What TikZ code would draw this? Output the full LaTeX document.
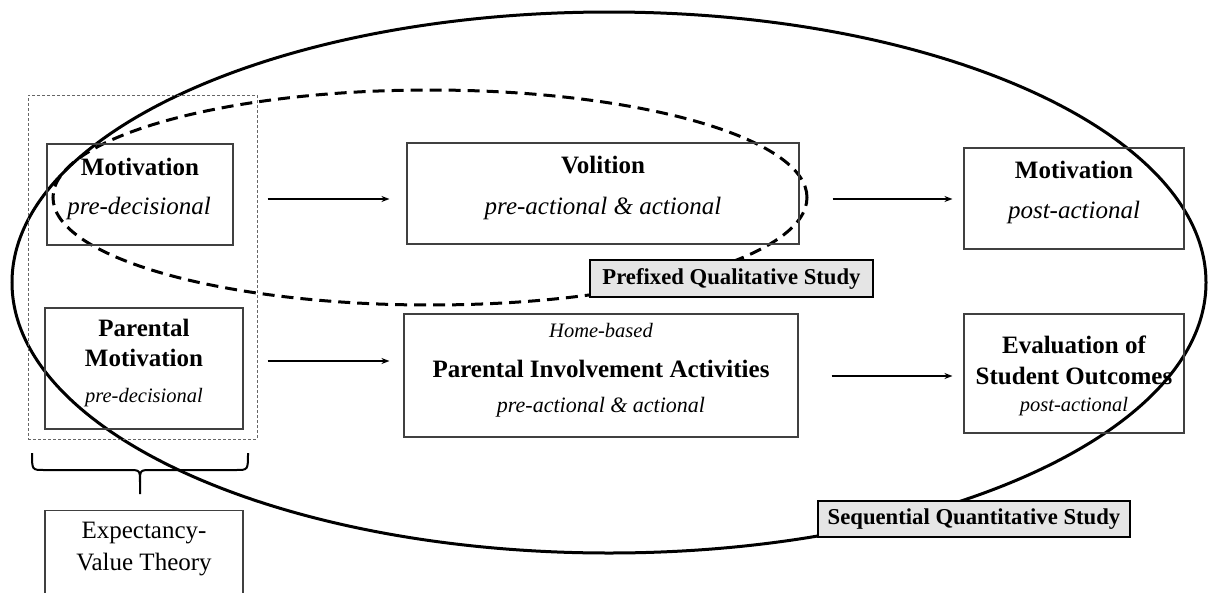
\documentclass[tikz,border=0pt]{standalone}
\usepackage{fontspec}
\setmainfont{Liberation Serif}
\usetikzlibrary{arrows.meta}
\newcommand{\fsz}[1]{\fontsize{#1}{#1}\selectfont}

\begin{document}
\begin{tikzpicture}[x=1pt,y=-1pt,
  stagebox/.style={draw=black!75, line width=1.1pt, inner sep=0pt},
  studytag/.style={draw=black, line width=1.2pt, fill=black!10, inner sep=0pt,
                   font=\fsz{22.7}\bfseries},
  flowarrow/.style={line width=1.4pt, -{Stealth[length=8pt,width=6pt]}},
  headtxt/.style={font=\fsz{25}\bfseries, inner sep=0pt},
  phasetxt/.style={font=\fsz{25}\itshape, inner sep=0pt},
  smalltxt/.style={font=\fsz{20.5}\itshape, inner sep=0pt},
  plaintxt/.style={font=\fsz{25}, inner sep=0pt}]

\useasboundingbox (0,0) rectangle (1208,592);
\clip (0,0) rectangle (1208,592);

% study scopes
\draw[line width=3pt] (609,282.5) ellipse [x radius=597pt, y radius=270.5pt];
\draw[line width=3pt, dash pattern=on 12pt off 7pt]
  (430,197.5) ellipse [x radius=377pt, y radius=107.5pt];

% theory grouping
\node[draw=black!60, line width=1pt, dash pattern=on 3pt off 2pt, inner sep=0pt,
      minimum width=229pt, minimum height=344pt] (grp) at (142.5,267) {};

% stage boxes
\node[stagebox, minimum width=186pt, minimum height=101pt] (mot)  at (140,194.5) {};
\node[stagebox, minimum width=198pt, minimum height=121pt] (pmot) at (144,368.5) {};
\node[stagebox, minimum width=392pt, minimum height=101pt] (vol)  at (603,193.5) {};
\node[stagebox, minimum width=394pt, minimum height=123pt] (pia)  at (601,375.5) {};
\node[stagebox, minimum width=220pt, minimum height=101pt] (post) at (1074,198.5) {};
\node[stagebox, minimum width=220pt, minimum height=119pt] (eval) at (1074,373.5) {};
\node[stagebox, minimum width=198pt, minimum height=100pt, anchor=north] (evt) at (144,510) {};

% box texts
\node[headtxt]  (motA)  at (140,167) {Motivation};
\node[phasetxt] (motB)  at (139,208) {pre-decisional};
\node[headtxt]  (volA)  at (603,165) {Volition};
\node[phasetxt] (volB)  at (603,208) {pre-actional \& actional};
\node[headtxt]  (postA) at (1074,170) {Motivation};
\node[phasetxt] (postB) at (1074,212) {post-actional};

\node[headtxt]  (pmotA) at (144,328) {Parental};
\node[headtxt]  (pmotB) at (144,358) {Motivation};
\node[smalltxt] (pmotC) at (144,398) {pre-decisional};
\node[smalltxt] (piaA)  at (601,330) {Home-based};
\node[headtxt]  (piaB)  at (601,369) {Parental Involvement Activities};
\node[font=\fsz{22}\itshape, inner sep=0pt] (piaC) at (601,407) {pre-actional \& actional};
\node[headtxt]  (evalA) at (1074,345) {Evaluation of};
\node[headtxt]  (evalB) at (1074,376) {Student Outcomes};
\node[smalltxt] (evalC) at (1074,407) {post-actional};

\node[plaintxt] (evtA) at (144,533) {Expectancy-};
\node[plaintxt] (evtB) at (144,565) {Value Theory};

% arrows between stages
\coordinate (rowA) at (0,199);
\coordinate (rowB) at (0,361);
\coordinate (rowC) at (0,376);
\draw[flowarrow, shorten <=34pt, shorten >=17pt] (mot.east |- rowA) -- (vol.west |- rowA);
\draw[flowarrow, shorten <=33pt, shorten >=11pt] (vol.east |- rowA) -- (post.west |- rowA);
\draw[flowarrow, shorten <=24pt, shorten >=14pt] (pmot.east |- rowB) -- (pia.west |- rowB);
\draw[flowarrow, shorten <=33pt, shorten >=11pt] (pia.east |- rowC) -- (eval.west |- rowC);

% brace under the theory grouping
\draw[line width=2pt] (32,453) .. controls (32,470) .. (44,470) -- (128,470)
  .. controls (140,470) .. (140,482) -- (140,494);
\draw[line width=2pt] (248,453) .. controls (248,470) .. (236,470) -- (152,470)
  .. controls (140,470) .. (140,482);

% study labels
\node[studytag, minimum width=283pt, minimum height=37pt] (qual) at (731.5,278.5) {Prefixed Qualitative Study};
\node[studytag, minimum width=312pt, minimum height=36pt] (quant) at (974,519) {Sequential Quantitative Study};

\end{tikzpicture}
\end{document}
